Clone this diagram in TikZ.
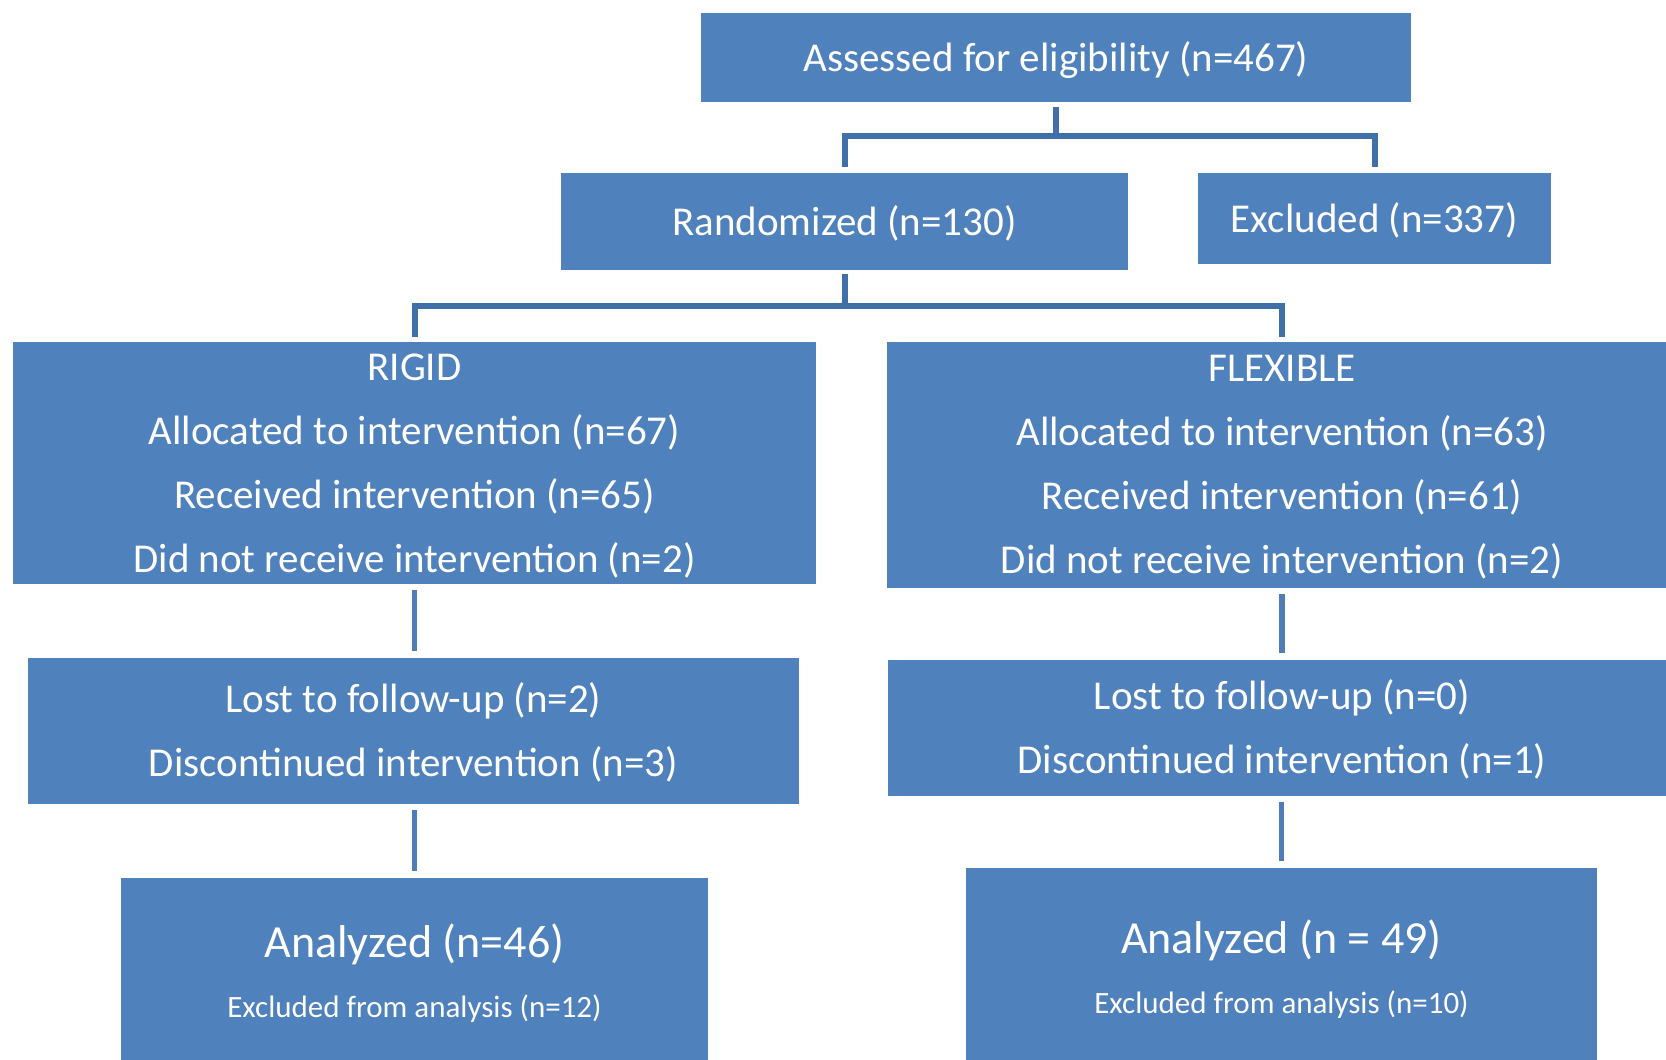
\documentclass[tikz,border=0pt]{standalone}
\usepackage{fontspec}
\setmainfont{Carlito}
\definecolor{boxblue}{HTML}{4F81BD}
\definecolor{linkdark}{HTML}{4170A9}
\definecolor{linklight}{HTML}{4F7DB8}
\begin{document}
\begin{tikzpicture}[x=0.5pt,y=-0.5pt,
  box/.style={fill=boxblue, draw=none, inner sep=0pt},
  txt/.style={text=white, align=center, inner sep=0pt,
    font=\fontsize{20.5}{32}\selectfont},
  conndark/.style={draw=linkdark, line width=3pt},
  connlight/.style={draw=linklight, line width=2.6pt, shorten <=3pt, shorten >=3.5pt}]
\clip (0,0) rectangle (1666,1060);
\fill[white] (0,0) rectangle (1666,1060);

% boxes
\node[box, minimum width=355pt, minimum height=44.5pt] (A) at (1056,57.5) {};
\node[box, minimum width=283.5pt, minimum height=48.5pt] (R) at (844.5,221.5) {};
\node[box, minimum width=176.5pt, minimum height=45.5pt] (E) at (1374.5,218.5) {};
\node[box, minimum width=401.5pt, minimum height=121pt] (RG) at (414.5,463) {};
\node[box, minimum width=395pt, minimum height=123pt] (FX) at (1282,465) {};
\node[box, minimum width=385.5pt, minimum height=73pt] (LR) at (413.5,731) {};
\node[box, minimum width=394pt, minimum height=68pt] (LF) at (1282,728) {};
\node[box, minimum width=293.5pt, minimum height=96pt] (AR) at (414.5,974) {};
\node[box, minimum width=315.5pt, minimum height=102pt] (AF) at (1281.5,970) {};

% texts
\node[txt] (At) at ([yshift=-1.2pt]A.center) {Assessed for eligibility (n=467)};
\node[txt] (Rt) at ([yshift=-1.1pt]R.center) {Randomized (n=130)};
\node[txt] (Et) at ([yshift=-1.1pt]E.center) {Excluded (n=337)};
\node[txt] (RGt) at ([yshift=-1.3pt]RG.center)
  {RIGID\\Allocated to intervention (n=67)\\Received intervention (n=65)\\Did not receive intervention (n=2)};
\node[txt] (FXt) at ([yshift=-1.3pt]FX.center)
  {FLEXIBLE\\Allocated to intervention (n=63)\\Received intervention (n=61)\\Did not receive intervention (n=2)};
\node[txt] (LRt) at ([yshift=-0.5pt]LR.center)
  {Lost to follow-up (n=2)\\Discontinued intervention (n=3)};
\node[txt] (LFt) at ([yshift=-0.5pt]LF.center)
  {Lost to follow-up (n=0)\\Discontinued intervention (n=1)};
\node[txt] (ARt) at ([yshift=0.5pt]AR.center)
  {{\fontsize{23}{23}\selectfont Analyzed (n=46)}\\[-2.3pt]{\fontsize{15.5}{15.5}\selectfont Excluded from analysis (n=12)}};
\node[txt] (AFt) at ([yshift=0.5pt]AF.center)
  {{\fontsize{23}{23}\selectfont Analyzed (n = 49)}\\[-2.3pt]{\fontsize{15.5}{15.5}\selectfont Excluded from analysis (n=10)}};

% top split
\draw[conndark] ([yshift=-2.5pt]A.south) -- ++(0,29) coordinate (j1);
\draw[conndark] ([yshift=3pt]R.north) |- (j1) -| ([yshift=3pt]E.north);
% second split
\draw[conndark] ([yshift=-2pt]R.south) -- ++(0,32) coordinate (j2);
\draw[conndark] ([yshift=2.5pt]RG.north) |- (j2) -| ([yshift=2.5pt]FX.north);

% lower links
\draw[connlight] (RG.south) -- (RG.south |- LR.north);
\draw[connlight] (FX.south) -- (FX.south |- LF.north);
\draw[connlight] (LR.south -| AR.north) -- (AR.north);
\draw[connlight] (LF.south -| AF.north) -- (AF.north);
\end{tikzpicture}
\end{document}
